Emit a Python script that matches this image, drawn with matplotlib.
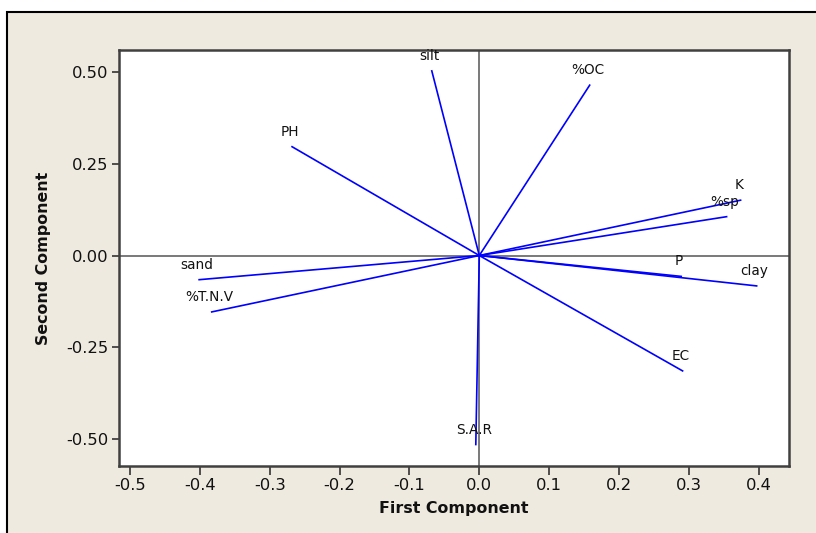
import matplotlib
matplotlib.use("Agg")
import matplotlib.pyplot as plt
from matplotlib.patches import Rectangle

# Loadings (first / second principal component)
variables = ["silt", "%OC", "K", "%sp", "PH", "sand", "%T.N.V", "S.A.R", "EC", "clay", "P"]
pc1 = [-0.068, 0.158, 0.374, 0.354, -0.268, -0.401, -0.383, -0.005, 0.291, 0.397, 0.289]
pc2 = [0.504, 0.465, 0.151, 0.106, 0.297, -0.066, -0.154, -0.516, -0.315, -0.083, -0.057]

xticks = [-0.5, -0.4, -0.3, -0.2, -0.1, 0.0, 0.1, 0.2, 0.3, 0.4]
yticks = [-0.50, -0.25, 0.00, 0.25, 0.50]

plt.rcParams['font.family'] = ['DejaVu Sans']
plt.rcParams['axes.unicode_minus'] = False

W, H = 816, 533
fig = plt.figure(figsize=(W / 100, H / 100), dpi=100, facecolor='white')

# beige outer panel
fig.patches.append(Rectangle((7 / W, -0.05), 1.2, (H - 12) / H + 0.05,
                             transform=fig.transFigure, facecolor='#EEEAE0',
                             edgecolor='black', linewidth=1.5, zorder=-10))

ax = fig.add_axes([119 / W, (H - 466) / H, 670 / W, 416 / H])
ax.set_zorder(5)
ax.set_facecolor('white')
ax.set_xlim(-0.5157, 0.4433)
ax.set_ylim(-0.5746, 0.561)

ax.axhline(0, color='#555555', linewidth=1.1, zorder=1)
ax.axvline(0, color='#555555', linewidth=1.1, zorder=1)

for name, x, y in zip(variables, pc1, pc2):
    ax.plot([0, x], [0, y], color='#0000FF', linewidth=1.2, zorder=2)
    ax.annotate(name, (x, y), xytext=(-2, 15), textcoords='offset pixels',
                ha='center', va='center', fontsize=9.8, color='#111111', zorder=3)

ax.set_xticks(xticks)
ax.set_xticklabels([f"{t:.1f}" for t in xticks])
ax.set_yticks(yticks)
ax.set_yticklabels([f"{t:.2f}" for t in yticks])
ax.tick_params(axis='x', length=6.5, width=1.2, color='#333333', labelsize=11.8,
               labelcolor='#111111', pad=2.5)
ax.tick_params(axis='y', length=5, width=1.2, color='#333333', labelsize=11.8,
               labelcolor='#111111', pad=2.5)

for s in ax.spines.values():
    s.set_color('#404040')
    s.set_linewidth(1.8)

ax.set_xlabel("First Component", fontsize=11.4, fontweight='bold', color='#111111')
ax.set_ylabel("Second Component", fontsize=11.4, fontweight='bold', color='#111111')
ax.xaxis.set_label_coords(0.5, (466 - 508) / 416)
ax.xaxis.label.set_va('center')
ax.yaxis.set_label_coords((43 - 119) / 670, 0.5)
ax.yaxis.label.set_va('center')

fig.savefig("out.png", dpi=100, facecolor='white')
